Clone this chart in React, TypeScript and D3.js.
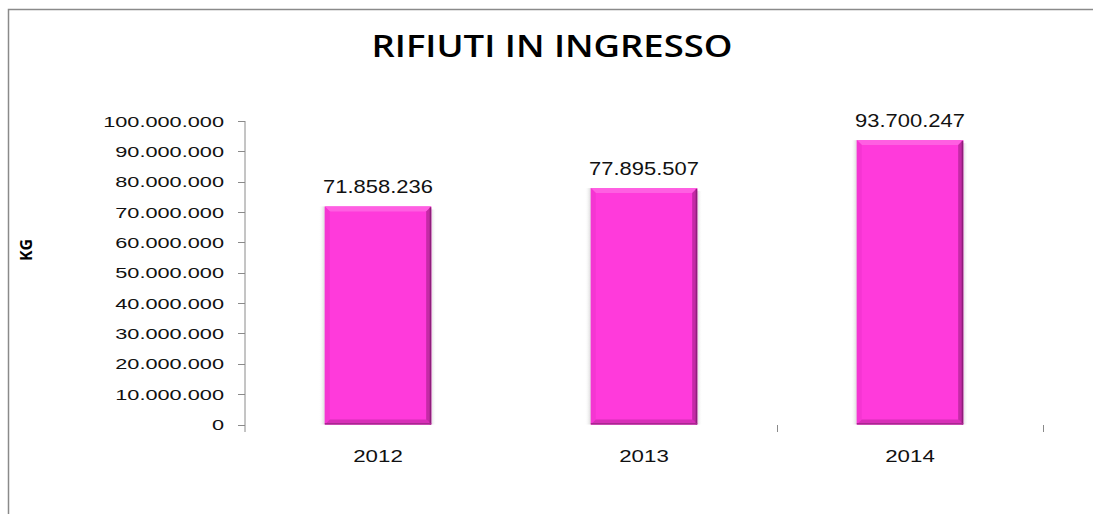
import React from "react";
import * as d3 from "d3";

const categories = ["2012", "2013", "2014"];
const values = [71858236, 77895507, 93700247];
const yTicks = [0, 10000000, 20000000, 30000000, 40000000, 50000000, 60000000, 70000000, 80000000, 90000000, 100000000];
const title = "RIFIUTI IN INGRESSO";
const yAxisTitle = "KG";

const W = 1093;
const H = 514;

const fmt = (v: number) => d3.format(",")(v).replace(/,/g, ".");

export default function App() {
  const x = d3.scaleBand<string>().domain(categories).range([245, 1043]).paddingInner(0.6).paddingOuter(0.3);
  const y = d3.scaleLinear().domain([0, 100000000]).range([424.5, 121]);
  const step = x.step();
  const bw = x.bandwidth();
  const bev = 5;
  const font = "'Liberation Sans', Arial, sans-serif";

  return (
    <svg width={W} height={H} style={{ position: "absolute", left: 0, top: 0, background: "#fff" }}>
      <defs>
        <linearGradient id="shadowL" x1="0" x2="1" y1="0" y2="0">
          <stop offset="0" stopColor="#ffffff" stopOpacity="0" />
          <stop offset="1" stopColor="#cfcfcf" stopOpacity="0.8" />
        </linearGradient>
        <linearGradient id="shadowR" x1="0" x2="1" y1="0" y2="0">
          <stop offset="0" stopColor="#d8d8d8" stopOpacity="0.9" />
          <stop offset="1" stopColor="#ffffff" stopOpacity="0" />
        </linearGradient>
      </defs>
      {/* frame */}
      <path d={`M8.5,${H} V9.5 H${W}`} fill="none" stroke="#8a8a8a" strokeWidth={1.5} />

      {/* title */}
      <text
        x={552}
        y={57}
        textAnchor="middle"
        fontFamily="'Open Sans', sans-serif"
        fontWeight={600}
        fontSize={30}
        textLength={361}
        lengthAdjust="spacingAndGlyphs"
        fill="#000"
      >
        {title}
      </text>

      {/* y axis title */}
      <text
        transform={`translate(32,250) rotate(-90)`}
        textAnchor="middle"
        fontFamily="'Open Sans', sans-serif"
        fontWeight={700}
        fontSize={16}
        fill="#000"
      >
        {yAxisTitle}
      </text>

      {/* y axis */}
      <line x1={245} x2={245} y1={y(100000000)} y2={432} stroke="#8a8a8a" strokeWidth={1} />
      {yTicks.map((t) => (
        <g key={t}>
          <line x1={238} x2={245} y1={Math.round(y(t)) + 0.5} y2={Math.round(y(t)) + 0.5} stroke="#8a8a8a" strokeWidth={1} />
          <text
            transform={`translate(224,${y(t) + 5.5}) scale(1.5,1)`}
            textAnchor="end"
            fontFamily={font}
            fontSize={14.5}
            fill="#111"
          >
            {fmt(t)}
          </text>
        </g>
      ))}

      {/* category boundary ticks (right edges of 2013 and 2014 bands) */}
      {categories.slice(1).map((c) => {
        const bx = (x(c) as number) + bw + step * 0.3;
        return (
          <line key={c} x1={Math.round(bx) + 0.5} x2={Math.round(bx) + 0.5} y1={425} y2={432} stroke="#8a8a8a" strokeWidth={1} />
        );
      })}

      {/* bars */}
      {categories.map((c, i) => {
        const x0 = x(c) as number;
        const y0 = y(values[i]);
        const y1 = y(0);
        const x1 = x0 + bw;
        return (
          <g key={c}>
            <rect x={x0 - 6} y={y0} width={6} height={y1 - y0} fill="url(#shadowL)" />
            <rect x={x1} y={y0 + 3} width={5} height={y1 - y0 - 3} fill="url(#shadowR)" />
            <rect x={x0} y={y0} width={bw} height={y1 - y0} fill="#FF3ADB" />
            <polygon points={`${x0},${y0} ${x1},${y0} ${x1 - bev},${y0 + bev} ${x0 + bev},${y0 + bev}`} fill="#FF5FE2" />
            <polygon points={`${x0},${y0} ${x0 + bev},${y0 + bev} ${x0 + bev},${y1 - bev} ${x0},${y1}`} fill="#F535D2" />
            <polygon points={`${x1},${y0} ${x1 - bev},${y0 + bev} ${x1 - bev},${y1 - bev} ${x1},${y1}`} fill="#C42AA6" />
            <polygon points={`${x0},${y1} ${x0 + bev},${y1 - bev} ${x1 - bev},${y1 - bev} ${x1},${y1}`} fill="#D82FB8" />
            <rect x={x1 - 1.5} y={y0 + 1} width={1.5} height={y1 - y0 - 1} fill="#8E1F7A" />
            <rect x={x0} y={y1 - 1.5} width={bw} height={1.5} fill="#A8288F" />
            <text
              transform={`translate(${x0 + bw / 2},${y0 - 13}) scale(1.22,1)`}
              textAnchor="middle"
              fontFamily={font}
              fontSize={18}
              fill="#111"
            >
              {fmt(values[i])}
            </text>
            <text
              transform={`translate(${x0 + bw / 2},${462}) scale(1.35,1)`}
              textAnchor="middle"
              fontFamily={font}
              fontSize={16.5}
              fill="#111"
            >
              {c}
            </text>
          </g>
        );
      })}
    </svg>
  );
}
